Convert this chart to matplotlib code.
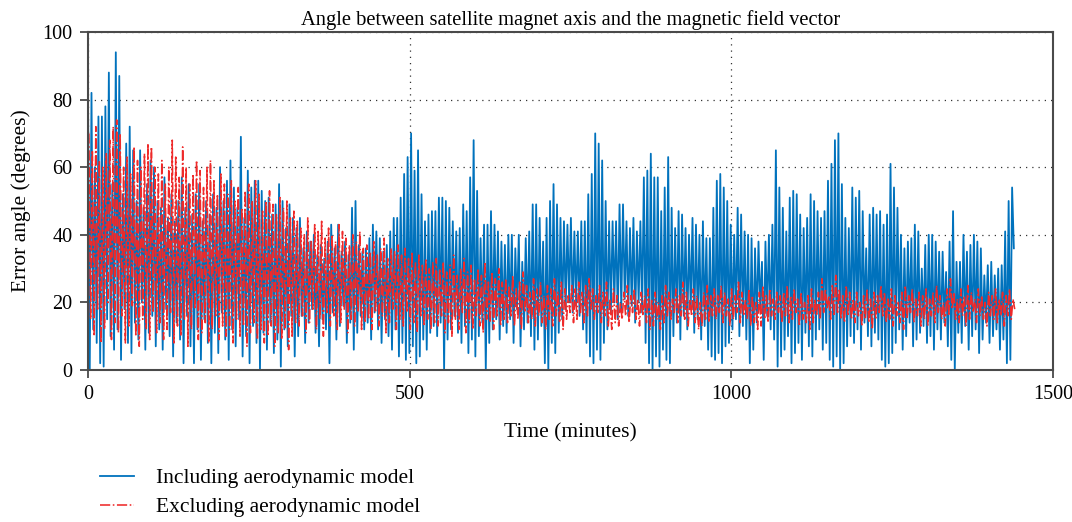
import numpy as np
import matplotlib
matplotlib.use("Agg")
import matplotlib.pyplot as plt

# values, one peak/trough pair every 5.4 minutes
STEP = 2.7  # minutes between consecutive samples

blue_peaks = [
    80, 82, 60, 75, 75, 78, 88, 55, 94, 87, 52, 67, 72, 65, 50, 65, 48, 55, 62, 60,
    50, 48, 57, 45, 52, 44, 50, 57, 48, 55, 46, 52, 55, 44, 50, 46, 52, 48, 60, 50,
    56, 62, 54, 48, 69, 45, 59, 54, 56, 56, 53, 50, 51, 46, 49, 55, 50, 42, 49, 45,
    42, 45, 36, 41, 38, 40, 34, 37, 33, 38, 43, 36, 43, 35, 38, 34, 48, 50, 37, 35,
    36, 39, 43, 41, 39, 35, 37, 41, 45, 45, 51, 58, 63, 70, 59, 65, 52, 44, 46, 47,
    47, 51, 51, 50, 48, 44, 41, 42, 49, 47, 57, 68, 53, 39, 43, 43, 47, 43, 41, 38,
    37, 40, 40, 36, 40, 32, 39, 41, 49, 49, 45, 38, 45, 50, 55, 49, 45, 44, 43, 45,
    41, 41, 44, 44, 52, 58, 70, 67, 62, 50, 44, 44, 44, 49, 49, 44, 42, 45, 41, 44,
    57, 59, 64, 57, 57, 47, 54, 63, 48, 42, 47, 46, 42, 40, 45, 43, 40, 44, 39, 39,
    48, 56, 58, 54, 50, 43, 40, 48, 46, 41, 40, 39, 36, 38, 32, 38, 40, 43, 65, 54,
    48, 41, 51, 53, 52, 46, 42, 45, 52, 50, 47, 45, 47, 56, 61, 68, 70, 55, 45, 42,
    54, 51, 53, 47, 36, 46, 48, 46, 47, 43, 46, 61, 54, 48, 40, 36, 38, 39, 43, 41,
    30, 37, 40, 40, 38, 35, 35, 29, 38, 47, 32, 32, 40, 35, 37, 40, 38, 36, 28, 31,
    32, 28, 30, 31, 41, 50, 54,
]
blue_troughs = [
    0, 12, 8, 2, 1, 15, 10, 6, 12, 3, 18, 8, 5, 14, 9, 20, 6, 11, 16, 7,
    12, 6, 18, 10, 4, 14, 9, 2, 16, 7, 2, 12, 3, 15, 8, 2, 11, 5, 17, 9,
    3, 12, 7, 15, 4, 10, 2, 13, 8, 0, 11, 6, 14, 5, 9, 1, 12, 7, 16, 4,
    10, 16, 8, 14, 18, 11, 7, 15, 12, 2, 17, 9, 13, 19, 8, 14, 6, 11, 16, 12,
    14, 9, 17, 12, 8, 15, 10, 6, 12, 4, 8, 3, 5, 7, 2, 4, 9, 6, 11, 13,
    10, 14, 0, 9, 12, 16, 11, 8, 13, 5, 9, 4, 10, 14, 0, 8, 12, 15, 9, 13,
    11, 15, 8, 18, 7, 12, 14, 10, 6, 9, 13, 2, 0, 8, 5, 11, 15, 18, 20, 17,
    19, 16, 12, 8, 4, 2, 6, 3, 8, 12, 17, 20, 15, 18, 21, 16, 19, 14, 20, 17,
    8, 2, 0, 4, 1, 6, 3, 2, 10, 14, 9, 16, 12, 18, 11, 15, 9, 13, 6, 4,
    3, 5, 2, 7, 8, 12, 15, 10, 13, 9, 2, 6, 14, 18, 3, 16, 12, 9, 1, 4,
    6, 10, 2, 5, 8, 3, 11, 7, 4, 9, 12, 6, 8, 3, 1, 4, 0, 2, 7, 10,
    8, 12, 6, 14, 10, 7, 11, 9, 3, 1, 2, 5, 8, 12, 6, 10, 14, 7, 9, 11,
    13, 8, 10, 6, 12, 9, 14, 7, 3, 0, 11, 8, 13, 6, 10, 12, 5, 9, 14, 8,
    10, 12, 6, 9, 2, 3, 36,
]

red_highs = [
    70, 65, 72, 62, 60, 64, 68, 72, 74, 70, 60, 63, 58, 66, 62, 60, 64, 67, 66, 60,
    58, 62, 55, 60, 68, 63, 57, 66, 60, 55, 58, 62, 59, 54, 60, 62, 56, 52, 58, 55,
    52, 56, 50, 54, 48, 53, 55, 50, 56, 52, 47, 50, 53, 49, 46, 51, 48, 50, 45, 47,
    44, 42, 40, 45, 38, 43, 41, 44, 39, 42, 40, 38, 43, 41, 39, 37, 40, 38, 41, 36,
    37, 35, 38, 34, 36, 39, 33, 36, 35, 37, 34, 36, 33, 35, 32, 34, 31, 33, 30, 32,
    33, 30, 32, 29, 31, 34, 28, 30, 33, 29, 31, 27, 30, 28, 32, 26, 29, 27, 30, 26,
    27, 25, 28, 24, 26, 29, 25, 23, 27, 24, 26, 22, 25, 24, 27, 23, 26, 24, 22, 25,
    24, 26, 23, 25, 27, 24, 22, 25, 23, 26, 21, 24, 22, 20, 23, 25, 22, 24, 21, 23,
    22, 24, 21, 23, 20, 22, 25, 23, 21, 24, 22, 26, 23, 21, 24, 22, 20, 23, 25, 22,
    24, 22, 25, 23, 21, 24, 22, 26, 23, 21, 24, 22, 20, 23, 25, 22, 24, 21, 23, 22,
    23, 25, 22, 24, 21, 23, 20, 22, 24, 21, 23, 27, 24, 22, 25, 28, 24, 22, 25, 23,
    21, 23, 20, 22, 24, 21, 23, 22, 25, 23, 21, 24, 22, 20, 23, 25, 22, 24, 21, 23,
    22, 24, 21, 23, 25, 22, 20, 24, 27, 23, 21, 24, 22, 25, 23, 21, 24, 22, 20, 23,
    22, 24, 21, 23, 22, 24, 21,
]
red_lows = [
    15, 10, 18, 8, 12, 20, 9, 14, 11, 16, 8, 13, 19, 10, 7, 15, 12, 9, 17, 11,
    14, 9, 12, 17, 8, 13, 10, 15, 7, 12, 18, 9, 11, 14, 8, 12, 16, 9, 13, 10,
    12, 8, 15, 10, 13, 7, 11, 14, 9, 12, 8, 10, 13, 7, 11, 9, 12, 6, 10, 14,
    13, 16, 11, 14, 18, 12, 15, 10, 17, 13, 16, 12, 14, 18, 11, 15, 13, 17, 12, 14,
    15, 12, 17, 13, 16, 11, 14, 18, 12, 15, 13, 17, 12, 14, 11, 16, 13, 15, 12, 14,
    13, 16, 11, 14, 10, 15, 12, 17, 11, 14, 12, 16, 13, 11, 15, 14, 12, 16, 13, 15,
    14, 16, 13, 15, 12, 17, 14, 15, 13, 16, 14, 12, 15, 13, 16, 14, 12, 15, 17, 14,
    15, 17, 14, 16, 18, 15, 17, 14, 16, 13, 12, 14, 13, 15, 16, 14, 17, 15, 13, 16,
    14, 12, 13, 15, 12, 14, 16, 15, 17, 14, 16, 15, 13, 16, 14, 12, 13, 15, 14, 16,
    15, 17, 14, 16, 13, 15, 17, 14, 16, 15, 13, 14, 12, 13, 15, 14, 16, 15, 17, 14,
    16, 14, 15, 17, 13, 15, 14, 12, 14, 16, 15, 17, 18, 15, 16, 17, 15, 14, 16, 15,
    14, 16, 13, 15, 14, 12, 15, 17, 16, 14, 15, 13, 16, 14, 12, 15, 17, 14, 16, 13,
    15, 13, 16, 14, 17, 15, 13, 16, 18, 15, 14, 16, 13, 15, 17, 14, 16, 15, 13, 16,
    15, 14, 16, 13, 16, 15, 18,
]

blue = np.column_stack([blue_peaks, blue_troughs]).ravel()
red = np.column_stack([red_highs, red_lows]).ravel()
t_blue = np.arange(len(blue)) * STEP
t_red = np.arange(len(red)) * STEP + STEP / 2

plt.rcParams["font.family"] = ["Liberation Serif", "DejaVu Serif"]

fig = plt.figure(figsize=(10.72, 5.22), dpi=100)
ax = fig.add_axes([0.0821, 0.2912, 0.9002, 0.6475])

ax.plot(t_blue, blue, color="#0072BD", linewidth=1.3, label="Including aerodynamic model")
ax.plot(t_red, red, color="#EE2A2A", linestyle="-.", linewidth=1.15,
        label="Excluding aerodynamic model")

ax.set_xlim(0, 1500)
ax.set_ylim(0, 100)
ax.set_xticks([0, 500, 1000, 1500])
ax.set_yticks([0, 20, 40, 60, 80, 100])
ax.set_axisbelow(True)
ax.grid(True, linestyle=(0, (1, 4)), color="#333333", linewidth=0.9)

for spine in ax.spines.values():
    spine.set_color("#4a4a4a")
    spine.set_linewidth(1.5)
ax.tick_params(direction="out", length=6, width=1.3, color="#4a4a4a",
               labelsize=14.5, pad=5)

ax.set_title("Angle between satellite magnet axis and the magnetic field vector",
             fontsize=14.8, pad=5)
ax.set_xlabel("Time (minutes)", fontsize=15.5, labelpad=14)
ax.set_ylabel("Error angle (degrees)", fontsize=15.5, labelpad=8)

fig.legend(loc="lower left", bbox_to_anchor=(0.075, -0.028), frameon=False,
           fontsize=15.5, handlelength=1.6, handletextpad=1.0, labelspacing=0.42)

fig.savefig("out.png", dpi=100)
plt.close(fig)
